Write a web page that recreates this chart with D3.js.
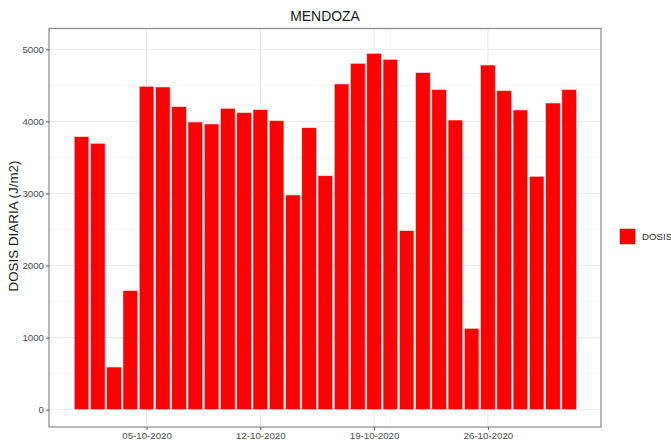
<!DOCTYPE html>
<html>
<head>
<meta charset="utf-8">
<script src="https://cdn.jsdelivr.net/npm/d3@7"></script>
<style>
  body { margin: 0; background: #fff; }
  text { font-family: "Liberation Sans", Arial, sans-serif; }
</style>
</head>
<body>
<div id="chart"></div>
<script>
// daily dose, Mendoza, October 2020
var days = d3.range(1, 32).map(function(d) { return new Date(2020, 9, d); });
var dosis = [3788, 3696, 592, 1651, 4487, 4477, 4204, 3991, 3964, 4181,
             4121, 4162, 4009, 2979, 3912, 3246, 4519, 4806, 4944, 4861,
             2484, 4676, 4440, 4019, 1129, 4782, 4426, 4158, 3238, 4255, 4440];
var xTicks = [new Date(2020, 9, 5), new Date(2020, 9, 12), new Date(2020, 9, 19), new Date(2020, 9, 26)];
var xMinor = [new Date(2020, 9, 20)];
var yTicks = [0, 1000, 2000, 3000, 4000, 5000];
var yMinor = [500, 1500, 2500, 3500, 4500];

var width = 671, height = 448;
var panel = {left: 49, right: 601, top: 28.5, bottom: 427};

var svg = d3.select("#chart").append("svg")
  .attr("width", width)
  .attr("height", height);

var x = d3.scaleTime()
  .domain([new Date(2020, 8, 29), new Date(2020, 10, 1, 23)])
  .range([panel.left, panel.right]);

var y = d3.scaleLinear()
  .domain([0, 5000])
  .range([409.7, 49.3]);

var dayW = x(new Date(2020, 9, 2)) - x(new Date(2020, 9, 1));

// gridlines
var grid = svg.append("g");
grid.selectAll("line.ymin").data(yMinor).enter().append("line")
  .attr("x1", panel.left).attr("x2", panel.right)
  .attr("y1", function(d) { return y(d); }).attr("y2", function(d) { return y(d); })
  .attr("stroke", "#f2f2f2").attr("stroke-width", 0.6);
grid.selectAll("line.xmin").data(xMinor).enter().append("line")
  .attr("y1", panel.top).attr("y2", panel.bottom)
  .attr("x1", function(d) { return x(d); }).attr("x2", function(d) { return x(d); })
  .attr("stroke", "#f2f2f2").attr("stroke-width", 0.6);
grid.selectAll("line.ymaj").data(yTicks).enter().append("line")
  .attr("x1", panel.left).attr("x2", panel.right)
  .attr("y1", function(d) { return y(d); }).attr("y2", function(d) { return y(d); })
  .attr("stroke", "#ebebeb").attr("stroke-width", 1.1);
grid.selectAll("line.xmaj").data(xTicks).enter().append("line")
  .attr("y1", panel.top).attr("y2", panel.bottom)
  .attr("x1", function(d) { return x(d); }).attr("x2", function(d) { return x(d); })
  .attr("stroke", "#ebebeb").attr("stroke-width", 1.1);

// bars
svg.append("g").selectAll("rect")
  .data(dosis)
  .enter().append("rect")
    .attr("x", function(d, i) { return x(days[i]) - dayW * 0.45; })
    .attr("width", dayW * 0.9)
    .attr("y", function(d) { return y(d); })
    .attr("height", function(d) { return y(0) - y(d); })
    .attr("fill", "#ff0000")
    .attr("stroke", "#ffe0e0")
    .attr("stroke-width", 0.6);

// panel border
svg.append("rect")
  .attr("x", panel.left).attr("y", panel.top)
  .attr("width", panel.right - panel.left).attr("height", panel.bottom - panel.top)
  .attr("fill", "none").attr("stroke", "#8a8a8a").attr("stroke-width", 1.2);

// axes
var xAxis = svg.append("g")
  .attr("transform", "translate(0," + panel.bottom + ")")
  .call(d3.axisBottom(x).tickValues(xTicks).tickSize(3).tickPadding(2)
    .tickFormat(d3.timeFormat("%d-%m-%Y")));
var yAxis = svg.append("g")
  .attr("transform", "translate(" + panel.left + ",0)")
  .call(d3.axisLeft(y).tickValues(yTicks).tickSize(3).tickPadding(2)
    .tickFormat(d3.format("d")));
[xAxis, yAxis].forEach(function(a) {
  a.select(".domain").remove();
  a.selectAll(".tick line").attr("stroke", "#555");
  a.selectAll(".tick text")
    .attr("fill", "#4d4d4d")
    .style("font-size", "9.7px")
    .style("font-family", "Liberation Sans, Arial, sans-serif");
});

// title and labels
svg.append("text")
  .attr("x", (panel.left + panel.right) / 2).attr("y", 21)
  .attr("text-anchor", "middle")
  .style("font-size", "13.9px").attr("fill", "#1a1a1a")
  .text("MENDOZA");

svg.append("text")
  .attr("transform", "translate(17.5,226) rotate(-90)")
  .attr("text-anchor", "middle")
  .style("font-size", "13.4px").attr("fill", "#1a1a1a")
  .text("DOSIS DIARIA (J/m2)");

// legend
var legend = svg.append("g");
legend.append("rect")
  .attr("x", 619.5).attr("y", 228.5).attr("width", 16).attr("height", 16)
  .attr("fill", "#ff0000").attr("stroke", "#ffe0e0").attr("stroke-width", 0.6);
legend.append("text")
  .attr("x", 642).attr("y", 240)
  .style("font-size", "9.7px").attr("fill", "#333")
  .text("DOSIS");
</script>
</body>
</html>
